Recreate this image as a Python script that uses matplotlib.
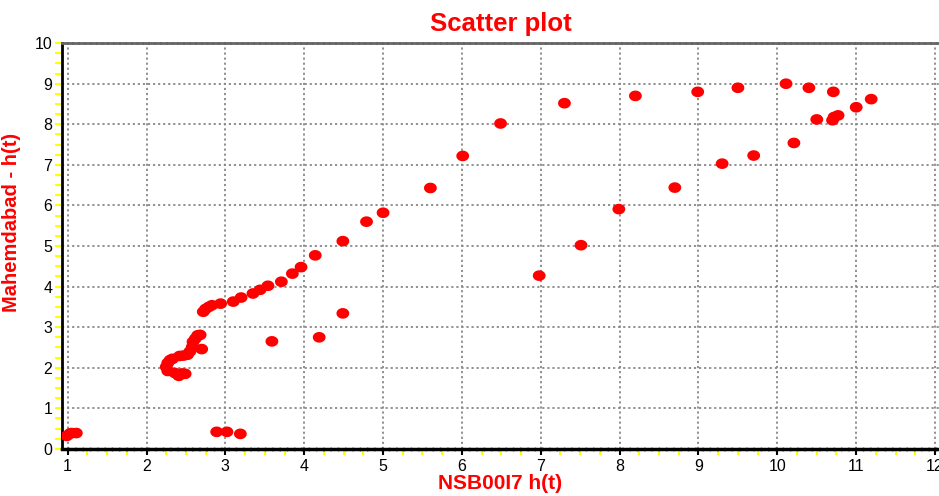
import numpy as np
import matplotlib
matplotlib.use("Agg")
from matplotlib import pyplot as plt
from matplotlib.path import Path
from matplotlib.ticker import MultipleLocator

plt.rcParams['font.family'] = ['Liberation Sans', 'DejaVu Sans']

# NSB00I7 h(t) readings
nsb = [0.99, 1.03, 1.05, 1.11,
       2.89, 3.02, 3.19,
       2.25, 2.27, 2.27, 2.30, 2.33, 2.36, 2.41, 2.45, 2.49, 2.42, 2.47, 2.52,
       2.55, 2.58, 2.59, 2.62, 2.65, 2.68, 2.70,
       2.72, 2.75, 2.79, 2.83, 2.94, 3.10, 3.20, 3.35, 3.44, 3.54, 3.71, 3.85,
       3.96, 4.14, 4.49, 4.79, 5.00, 5.60, 6.01, 6.49, 7.30,
       3.59, 4.19, 4.49, 6.98, 7.51, 7.99, 8.70, 9.30, 9.70, 10.21,
       8.20, 8.99, 9.50, 10.11, 10.40, 10.71, 11.19, 11.00,
       10.50, 10.70, 10.72, 10.77]
# Mahemdabad h(t) readings
mah = [0.32, 0.38, 0.39, 0.39,
       0.42, 0.42, 0.37,
       2.02, 2.12, 1.92, 2.19, 2.22, 1.87, 1.80, 1.86, 1.85, 2.29, 2.30, 2.32,
       2.40, 2.51, 2.64, 2.72, 2.80, 2.81, 2.46,
       3.38, 3.45, 3.50, 3.54, 3.58, 3.63, 3.73, 3.83, 3.92, 4.02, 4.12, 4.32,
       4.48, 4.77, 5.12, 5.60, 5.82, 6.43, 7.22, 8.02, 8.52,
       2.65, 2.75, 3.34, 4.27, 5.02, 5.91, 6.44, 7.03, 7.23, 7.54,
       8.70, 8.80, 8.90, 9.00, 8.90, 8.80, 8.62, 8.42,
       8.12, 8.10, 8.18, 8.22]

# slightly wide oval marker
t = np.linspace(0, 2 * np.pi, 40)
oval = Path(np.column_stack([1.2 * np.cos(t), np.sin(t)]), closed=True)

fig = plt.figure(figsize=(9.39, 4.96), dpi=100)
ax = fig.add_axes([0.066, 0.095, 0.934, 0.818])

ax.scatter(nsb, mah, marker=oval, s=85, color='#ff0000', edgecolors='none', zorder=3)

ax.set_xlim(0.928, 12.05)
ax.set_ylim(0, 10)
ax.xaxis.set_major_locator(MultipleLocator(1))
ax.xaxis.set_minor_locator(MultipleLocator(0.25))
ax.yaxis.set_major_locator(MultipleLocator(1))
ax.yaxis.set_minor_locator(MultipleLocator(0.25))

ax.grid(True, which='major', color='#888888', linestyle=(0, (1.2, 1.6)), linewidth=1.3)
ax.tick_params(axis='x', which='major', length=4, width=1.5, color='black',
               labelsize=11.5, pad=3)
ax.tick_params(axis='x', which='minor', length=4, width=1.5, color='#ffff00')
ax.tick_params(axis='y', which='both', length=5, width=1.5, color='#ffff00',
               labelsize=11.5, pad=2)

ax.spines['left'].set_color('black')
ax.spines['left'].set_linewidth(2)
ax.spines['bottom'].set_color('black')
ax.spines['bottom'].set_linewidth(2.5)
ax.spines['bottom'].set_linestyle((0, (1.5, 0.6)))
ax.spines['top'].set_color('#666666')
ax.spines['top'].set_linewidth(2)
ax.spines['top'].set_linestyle((0, (1.5, 0.6)))
ax.spines['right'].set_visible(False)

ax.set_title('Scatter plot', color='#ff0000', fontsize=18.5, fontweight='bold', pad=9)
ax.set_xlabel('NSB00I7 h(t)', color='#ff0000', fontsize=15, fontweight='bold')
ax.xaxis.set_label_coords(0.5, -0.063)
ax.set_ylabel('Mahemdabad - h(t)', color='#ff0000', fontsize=14.5, fontweight='bold')
ax.yaxis.set_label_coords(-0.047, 0.557)

fig.savefig('out.png', dpi=100)
